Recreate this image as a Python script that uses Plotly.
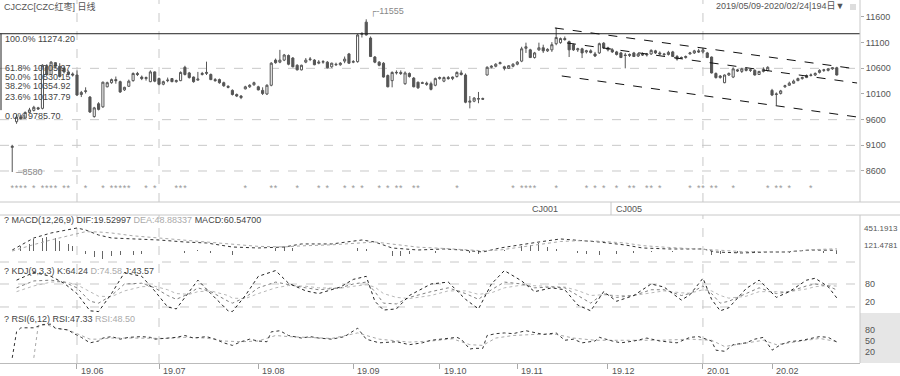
import plotly.graph_objects as go
import pandas as pd

# ---------------- data ----------------
holidays = ["2019-06-07", "2019-09-13", "2019-10-01", "2019-10-02", "2019-10-03", "2019-10-04",
            "2019-10-07", "2020-01-01", "2020-01-24", "2020-01-27", "2020-01-28", "2020-01-29",
            "2020-01-30", "2020-01-31"]
month_labels = ["19.06", "19.07", "19.08", "19.09", "19.10", "19.11", "19.12", "20.01", "20.02"]
price_ticks = [8600, 9100, 9600, 10100, 10600, 11100, 11600]
first_candle = 2

opens = [9060, 9560, 9650, 9630, 9740, 9780, 9830, 9820, 10640, 10480, 10710, 10640, 10600, 10530, 10490,
         10470, 10090, 10150, 10040, 9660, 9910, 9850, 10240, 10320, 10380, 10340, 10180, 10250, 10360, 10500,
         10430, 10400, 10340, 10530, 10400, 10290, 10360, 10400, 10340, 10360, 10620, 10510, 10430, 10370, 10480,
         10500, 10480, 10380, 10380, 10320, 10250, 10170, 10090, 10060, 10200, 10240, 10280, 10240, 10170, 10100,
         10270, 10760, 10720, 10760, 10850, 10800, 10660, 10570, 10720, 10770, 10760, 10700, 10720, 10720, 10630,
         10680, 10670, 10740, 10880, 10720, 10730, 11260, 11500, 11190, 10820, 10720, 10700, 10460, 10360, 10510,
         10520, 10300, 10500, 10410, 10330, 10320, 10310, 10300, 10270, 10400, 10350, 10420, 10400, 10440, 10510,
         10470, 9940, 9960, 10000, 10010, 10470, 10620, 10640, 10690, 10630, 10600, 10640, 10680, 10740, 10990,
         10960, 10810, 10960, 11000, 10940, 10960, 11080, 11100, 11180, 11120, 11060, 10960, 10980, 10920, 10940,
         10880, 10900, 11090, 11000, 10960, 10920, 10900, 10860, 10850, 10900, 10840, 10880, 10860, 10880, 10940,
         10900, 10880, 10870, 10920, 10830, 10800, 10810, 10880, 10900, 10940, 10920, 10900, 10820, 10500, 10420,
         10320, 10470, 10430, 10570, 10540, 10590, 10560, 10560, 10480, 10540, 10560, 10170, 10090, 10110, 10240,
         10270, 10310, 10360, 10400, 10420, 10460, 10470, 10520, 10560, 10560, 10590, 10610]
highs = [9110, 9700, 9690, 9760, 9830, 9870, 9850, 10680, 10680, 10740, 10720, 10700, 10640, 10560, 10520,
         10560, 10160, 10230, 10060, 9850, 9940, 10340, 10340, 10400, 10440, 10360, 10240, 10380, 10520, 10530,
         10460, 10440, 10560, 10540, 10420, 10360, 10420, 10410, 10380, 10540, 10650, 10530, 10440, 10530, 10530,
         10730, 10500, 10410, 10400, 10340, 10270, 10190, 10110, 10080, 10260, 10290, 10340, 10260, 10230, 10290,
         10720, 10790, 10960, 10880, 10870, 10820, 10680, 10670, 10800, 10820, 10780, 10760, 10760, 10740, 10710,
         10710, 10720, 10830, 10900, 10760, 11270, 11300, 11555, 11220, 10840, 10740, 10720, 10480, 10540, 10560,
         10560, 10540, 10520, 10430, 10340, 10340, 10340, 10340, 10420, 10440, 10440, 10450, 10440, 10540, 10560,
         10500, 10060, 10040, 10140, 10030, 10640, 10660, 10700, 10730, 10650, 10660, 10700, 10740, 11020, 11100,
         10980, 10920, 11100, 11060, 10990, 11110, 11390, 11200, 11220, 11140, 11080, 11000, 11000, 10960, 10970,
         10920, 11100, 11110, 11020, 10990, 10940, 10920, 10900, 10890, 10920, 10900, 10910, 10900, 10970, 10960,
         10930, 10900, 10940, 10940, 10860, 10830, 10850, 10920, 10960, 10980, 11000, 10920, 10830, 10520, 10470,
         10480, 10520, 10620, 10590, 10610, 10610, 10590, 10580, 10550, 10620, 10640, 10200, 10130, 10180, 10280,
         10340, 10380, 10420, 10440, 10480, 10500, 10520, 10580, 10590, 10600, 10620, 10630]
lows = [8580, 9520, 9600, 9620, 9730, 9760, 9790, 9800, 10450, 10470, 10600, 10420, 10500, 10460, 10440,
        10060, 10040, 10110, 9730, 9640, 9780, 9830, 10230, 10300, 10300, 10120, 10160, 10240, 10340, 10450,
        10370, 10360, 10330, 10330, 10270, 10270, 10330, 10330, 10320, 10350, 10460, 10400, 10320, 10360, 10460,
        10470, 10370, 10340, 10300, 10240, 10210, 10070, 10040, 10000, 10190, 10220, 10260, 10170, 10080, 10080,
        10250, 10690, 10700, 10740, 10660, 10620, 10560, 10560, 10700, 10740, 10660, 10680, 10690, 10600, 10610,
        10650, 10650, 10700, 10690, 10700, 10710, 11200, 11240, 10820, 10700, 10640, 10420, 10230, 10230, 10480,
        10470, 10280, 10420, 10230, 10200, 10300, 10260, 10170, 10250, 10380, 10330, 10380, 10370, 10420, 10460,
        9920, 9820, 9940, 9920, 9990, 10460, 10600, 10620, 10680, 10560, 10590, 10620, 10660, 10720, 10900,
        10800, 10790, 10940, 10900, 10920, 10920, 11050, 11080, 11140, 10820, 10940, 10920, 10800, 10890, 10890,
        10820, 10880, 10980, 10930, 10900, 10850, 10800, 10600, 10820, 10820, 10820, 10840, 10830, 10860, 10880,
        10860, 10840, 10850, 10820, 10750, 10790, 10790, 10870, 10880, 10900, 10890, 10800, 10500, 10400, 10400,
        10310, 10450, 10410, 10530, 10510, 10540, 10530, 10460, 10470, 10520, 10540, 10060, 9880, 10090, 10220,
        10260, 10300, 10350, 10380, 10410, 10440, 10450, 10500, 10530, 10540, 10570, 10460]
closes = [9080, 9650, 9620, 9740, 9790, 9840, 9810, 10660, 10480, 10720, 10640, 10440, 10530, 10490, 10470,
          10080, 10130, 10160, 9750, 9830, 9800, 10330, 10320, 10380, 10360, 10140, 10230, 10350, 10500, 10480,
          10400, 10420, 10530, 10350, 10290, 10340, 10370, 10340, 10360, 10520, 10480, 10420, 10340, 10390, 10500,
          10520, 10380, 10360, 10320, 10260, 10230, 10090, 10060, 10030, 10240, 10270, 10320, 10180, 10110, 10270,
          10700, 10710, 10760, 10860, 10680, 10630, 10570, 10660, 10760, 10780, 10670, 10720, 10730, 10610, 10700,
          10670, 10700, 10780, 10700, 10730, 11250, 11280, 11250, 10830, 10720, 10660, 10430, 10240, 10520, 10520,
          10500, 10510, 10440, 10240, 10220, 10310, 10290, 10190, 10400, 10420, 10420, 10400, 10430, 10520, 10480,
          9940, 9960, 10020, 10010, 10000, 10620, 10640, 10680, 10710, 10600, 10650, 10680, 10720, 10980, 11020,
          10810, 10900, 11000, 10940, 10970, 11060, 11200, 11180, 11160, 10960, 10960, 10980, 10900, 10940, 10910,
          10840, 11080, 11000, 10960, 10920, 10870, 10810, 10850, 10870, 10830, 10880, 10860, 10880, 10950, 10900,
          10880, 10870, 10910, 10830, 10780, 10810, 10830, 10900, 10940, 10920, 10960, 10810, 10510, 10420, 10450,
          10470, 10500, 10590, 10550, 10590, 10560, 10570, 10470, 10540, 10580, 10620, 10080, 10100, 10160, 10260,
          10310, 10350, 10400, 10420, 10460, 10470, 10500, 10560, 10570, 10590, 10610, 10470]

fib_high, fib_low = 11274.20, 9785.70
fib_labels = ["100.0% 11274.20", "61.8% 10705.97", "50.0% 10530.15", "38.2% 10354.92",
              "23.6% 10137.79", "0.0% 9785.70"]
high_mark, low_mark = 11555, 8580

# trend channel drawn on the price panel (index, price)
chan_top = [(127.7, 11386), (197.7, 10587)]
chan_mid = [(130.5, 11094), (197.7, 10314)]
chan_low = [(129.3, 10451), (197.7, 9652)]

star_idx = [2, 3, 4, 5, 7, 9, 10, 11, 12, 14, 15, 19, 23, 25, 26, 27, 28, 29, 33, 35, 40, 41, 42, 56, 62, 63,
            68, 73, 75, 79, 81, 83, 87, 89, 91, 92, 95, 96, 105, 118, 120, 121, 122, 123, 128, 135, 137, 139,
            142, 145, 146, 149, 150, 152, 159, 161, 162, 164, 165, 169, 177, 179, 180, 182, 187]

dif_idx = [2, 4, 7, 11, 15, 17, 19, 22, 25, 30, 36, 42, 47, 53, 59, 65, 69, 76, 83, 86, 90, 96, 102, 106, 111,
           115, 119, 124, 129, 133, 138, 144, 148, 154, 159, 162, 165, 171, 177, 181, 187, 193]
dif_val = [25, 122, 258, 355, 413, 452, 413, 316, 258, 239, 219, 180, 161, 83, 64, 83, 142, 142, 219, 180, 64,
           25, 45, 25, -14, 64, 122, 180, 239, 219, 180, 122, 64, 45, 45, 45, -14, -33, -14, -14, 25, 19.53]
dea_val = [5, 60, 130, 220, 300, 350, 380, 375, 355, 300, 260, 215, 185, 135, 95, 85, 105, 125, 170, 180, 140,
           80, 55, 40, 10, 25, 70, 130, 190, 205, 195, 160, 110, 75, 55, 50, 25, -5, -15, -15, 30, 48.88]
macd_idx = [4, 6, 7, 9, 10, 12, 13, 15, 16, 19, 21, 23, 25, 27, 30, 32, 36, 42, 45, 48, 53, 55, 63, 65, 67, 82,
            84, 90, 92, 94, 96, 100, 108, 110, 116, 120, 122, 124, 126, 128, 133, 135, 138, 142, 146, 150, 155,
            162, 164, 166, 170, 174, 178, 182, 186, 190, 193]
macd_val = [100, 150, 230, 250, 270, 250, 200, 150, 100, -60, -120, -150, -100, -80, -70, -60, -40, -30, 20, -25,
            -70, -60, 60, 80, 70, 60, 50, -90, -100, -60, -30, -30, -40, -50, 30, 100, 120, 160, 90, 50, -40,
            -60, -70, -50, -30, -20, -20, -40, -70, -60, -30, -20, 20, -30, 15, -25, -58]

kdj_idx = [3, 7, 11, 14, 17, 20, 22, 25, 28, 32, 35, 38, 40, 43, 45, 48, 52, 53, 56, 59, 63, 66, 70, 73, 78, 81,
           84, 86, 88, 91, 94, 99, 103, 107, 110, 113, 116, 120, 123, 127, 130, 133, 136, 139, 142, 146, 150,
           153, 157, 159, 162, 164, 166, 168, 172, 175, 179, 182, 186, 188, 191, 193]
k_val = [70, 88, 90, 85, 70, 35, 30, 50, 80, 82, 70, 50, 40, 55, 70, 60, 35, 30, 45, 70, 85, 78, 70, 65, 70, 80,
         85, 60, 30, 28, 45, 60, 70, 55, 40, 65, 85, 80, 70, 72, 70, 50, 30, 55, 45, 50, 65, 65, 50, 55, 75, 55,
         30, 35, 55, 70, 55, 60, 75, 80, 75, 64.24]
d_val = [60, 75, 85, 86, 78, 60, 48, 47, 62, 73, 74, 65, 55, 53, 60, 62, 50, 43, 42, 55, 70, 76, 74, 70, 69, 74,
         78, 72, 55, 45, 42, 50, 62, 62, 53, 57, 70, 77, 75, 73, 72, 63, 50, 52, 50, 50, 57, 62, 57, 56, 65, 62,
         50, 43, 48, 60, 60, 60, 67, 73, 76, 74.58]
j_val = [90, 110, 100, 82, 55, 10, 8, 55, 110, 100, 62, 20, 15, 60, 90, 55, 10, 8, 50, 100, 115, 82, 62, 55, 72,
         92, 100, 35, 12, 15, 50, 80, 85, 40, 15, 80, 115, 88, 60, 70, 65, 25, 10, 60, 35, 50, 80, 72, 38, 52,
         95, 40, 10, 18, 68, 90, 45, 60, 90, 95, 73, 43.57]

rsi6_idx = [2, 3, 4, 7, 9, 11, 12, 15, 16, 18, 20, 22, 23, 25, 27, 29, 32, 34, 35, 38, 40, 42, 44, 47, 49, 51,
            53, 55, 57, 59, 61, 62, 64, 66, 69, 71, 73, 76, 79, 82, 84, 87, 91, 94, 97, 99, 102, 105, 106, 108,
            109, 111, 112, 114, 116, 118, 121, 123, 125, 128, 130, 132, 134, 137, 138, 141, 143, 146, 149, 152,
            156, 159, 161, 164, 165, 167, 169, 172, 174, 176, 178, 180, 182, 185, 187, 189, 191, 193]
rsi6_val = [4, 75, 86, 86, 95, 96, 85, 80, 72, 60, 45, 50, 58, 62, 55, 60, 62, 60, 55, 58, 60, 65, 58, 62, 55,
            45, 38, 48, 55, 50, 48, 75, 78, 65, 58, 62, 58, 55, 62, 85, 55, 45, 48, 40, 45, 52, 55, 60, 55, 28,
            30, 30, 65, 70, 72, 70, 78, 72, 68, 72, 52, 55, 45, 50, 60, 50, 45, 50, 58, 50, 45, 60, 62, 50, 25,
            22, 40, 45, 55, 60, 25, 40, 48, 52, 58, 62, 60, 47.33]
rsi12_idx = [7, 8, 10, 12, 15, 17, 20, 22, 25, 29, 34, 38, 42, 47, 51, 55, 59, 63, 66, 71, 76, 82, 87, 94, 99,
             104, 108, 111, 114, 118, 123, 128, 132, 137, 140, 146, 152, 159, 164, 167, 172, 176, 179, 185, 189,
             193]
rsi12_val = [4, 90, 95, 85, 80, 70, 55, 55, 58, 58, 58, 57, 60, 58, 50, 48, 50, 65, 62, 60, 57, 72, 55, 47, 50,
             56, 40, 38, 58, 65, 68, 68, 58, 52, 52, 50, 52, 55, 52, 35, 45, 52, 40, 50, 57, 48.5]

# ---------------- layout helpers ----------------
W, H = 900, 376
PR, PB = 40, 13
PW, PH = W - PR, H - PB
STEP = 4.317          # pixels per trading day
X0 = 3.6              # pixel of day 0


def yp(ypx):
    return (PH - ypx) / PH


def xp(xpx):
    return xpx / PW


dates = [d for d in pd.bdate_range("2019-05-09", "2020-02-24") if d.strftime("%Y-%m-%d") not in holidays]
n_days = len(dates)
month_starts = [i for i in range(1, n_days) if dates[i].month != dates[i - 1].month]
cx = list(range(first_candle, first_candle + len(closes)))

GRAY = "#555555"
FONT = "Liberation Sans, Noto Sans CJK SC, sans-serif"

fig = go.Figure()
fig.add_trace(go.Candlestick(
    x=cx, open=opens, high=highs, low=lows, close=closes, xaxis="x", yaxis="y",
    increasing=dict(line=dict(color=GRAY, width=1), fillcolor="#ffffff"),
    decreasing=dict(line=dict(color=GRAY, width=1), fillcolor=GRAY),
    whiskerwidth=0, showlegend=False, hoverinfo="skip"))

fig.add_trace(go.Scatter(x=star_idx, y=[8249] * len(star_idx), mode="text", text=["*"] * len(star_idx),
                         textfont=dict(size=9, color="#999999", family=FONT), yaxis="y",
                         showlegend=False, hoverinfo="skip"))

fig.add_trace(go.Bar(x=macd_idx, y=macd_val, width=0.2, marker=dict(color="#666666", line=dict(width=0)),
                     yaxis="y2", showlegend=False, hoverinfo="skip"))
fig.add_trace(go.Scatter(x=dif_idx, y=dif_val, mode="lines", line=dict(color="#333333", width=1, dash="dot"),
                         yaxis="y2", showlegend=False, hoverinfo="skip"))
fig.add_trace(go.Scatter(x=dif_idx, y=dea_val, mode="lines", line=dict(color="#a8a8a8", width=1, dash="dot"),
                         yaxis="y2", showlegend=False, hoverinfo="skip"))

fig.add_trace(go.Scatter(x=kdj_idx, y=d_val, mode="lines", line=dict(color="#b8b8b8", width=1, dash="dot"),
                         yaxis="y3", showlegend=False, hoverinfo="skip"))
fig.add_trace(go.Scatter(x=kdj_idx, y=k_val, mode="lines", line=dict(color="#808080", width=1, dash="dot"),
                         yaxis="y3", showlegend=False, hoverinfo="skip"))
fig.add_trace(go.Scatter(x=kdj_idx, y=j_val, mode="lines", line=dict(color="#222222", width=1, dash="dot"),
                         yaxis="y3", showlegend=False, hoverinfo="skip"))

fig.add_trace(go.Scatter(x=rsi12_idx, y=rsi12_val, mode="lines", line=dict(color="#a8a8a8", width=1, dash="dot"),
                         yaxis="y4", showlegend=False, hoverinfo="skip"))
fig.add_trace(go.Scatter(x=rsi6_idx, y=rsi6_val, mode="lines", line=dict(color="#333333", width=1, dash="dot"),
                         yaxis="y4", showlegend=False, hoverinfo="skip"))

shapes = []
LG = "#c8c8c8"
# Fibonacci frame
shapes.append(dict(type="line", xref="paper", yref="y", x0=0, x1=1, y0=fib_high, y1=fib_high,
                   line=dict(color="#222222", width=1)))
shapes.append(dict(type="line", xref="paper", yref="y", x0=xp(1), x1=xp(1), y0=fib_low, y1=fib_high,
                   line=dict(color="#222222", width=1)))
# price grid
for lv in [10600, 9600, 9100, 8600]:
    shapes.append(dict(type="line", xref="paper", yref="y", x0=0, x1=1, y0=lv, y1=lv,
                       line=dict(color=LG, width=1, dash="dash"), layer="below"))
# vertical grid
for m in [month_starts[0], month_starts[1], month_starts[7]]:
    shapes.append(dict(type="line", xref="x", yref="paper", x0=m, x1=m, y0=yp(202), y1=1,
                       line=dict(color=LG, width=1, dash="dash"), layer="below"))
    shapes.append(dict(type="line", xref="x", yref="paper", x0=m, x1=m, y0=0, y1=yp(215),
                       line=dict(color=LG, width=1, dash="dash"), layer="below"))
# channel
for seg in [chan_top, chan_mid, chan_low]:
    shapes.append(dict(type="line", xref="x", yref="y", x0=seg[0][0], y0=seg[0][1], x1=seg[1][0], y1=seg[1][1],
                       line=dict(color="#111111", width=1, dash="dash")))
# panel separators
for ypx in [202, 215]:
    shapes.append(dict(type="line", xref="paper", yref="paper", x0=0, x1=W / PW, y0=yp(ypx), y1=yp(ypx),
                       line=dict(color=LG, width=1)))
shapes.append(dict(type="line", xref="paper", yref="paper", x0=1, x1=1, y0=yp(202), y1=1, line=dict(color=LG, width=1)))
shapes.append(dict(type="line", xref="paper", yref="paper", x0=1, x1=1, y0=0, y1=yp(215), line=dict(color=LG, width=1)))
shapes.append(dict(type="line", xref="paper", yref="paper", x0=xp(611), x1=xp(611), y0=yp(215), y1=yp(202),
                   line=dict(color=LG, width=1)))
# sub-panel dashed guides
shapes.append(dict(type="line", xref="paper", yref="paper", x0=0, x1=1, y0=yp(262), y1=yp(262),
                   line=dict(color=LG, width=1, dash="dash"), layer="below"))
for lv in [80, 20]:
    shapes.append(dict(type="line", xref="paper", yref="y3", x0=0, x1=1, y0=lv, y1=lv,
                       line=dict(color=LG, width=1, dash="dash"), layer="below"))
# grey tag area of RSI
shapes.append(dict(type="rect", xref="paper", yref="paper", x0=1, x1=W / PW, y0=0, y1=yp(313),
                   fillcolor="#e6e6e6", line=dict(width=0), layer="below"))
# small square top right
shapes.append(dict(type="rect", xref="paper", yref="paper", x0=xp(850), x1=xp(856), y0=yp(10), y1=yp(4),
                   fillcolor="#dddddd", line=dict(width=0)))

ann = []


def txt(x, y, s, color="#555555", anchor="left", size=9):
    ann.append(dict(xref="paper", yref="paper", x=xp(x), y=yp(y), text=s, showarrow=False,
                    xanchor=anchor, yanchor="middle", font=dict(size=size, color=color, family=FONT)))


txt(2, 7, "CJCZC[CZC红枣] 日线")
txt(846, 6, "2019/05/09-2020/02/24|194日▼", anchor="right")
fib_y = [39, 68, 77, 86, 97, 116]
for s, y in zip(fib_labels, fib_y):
    txt(3, y, s, color="#444444")
ann.append(dict(xref="x", yref="y", x=84.3, y=high_mark, text="┌-" + str(high_mark), showarrow=False,
                xanchor="left", yanchor="bottom", font=dict(size=9, color="#888888", family=FONT)))
ann.append(dict(xref="x", yref="y", x=2.1, y=low_mark, text="─" + str(low_mark), showarrow=False,
                xanchor="left", yanchor="middle", font=dict(size=9, color="#888888", family=FONT)))
txt(530, 208.5, "CJ001")
txt(614, 208.5, "CJ005")
txt(2, 220, "? MACD(12,26,9) DIF:19.52997 <span style='color:#aaaaaa'>DEA:48.88337</span> MACD:60.54700", color="#444444")
txt(2, 271, "? KDJ(9,3,3) K:64.24 <span style='color:#aaaaaa'>D:74.58</span> J:43.57", color="#444444")
txt(2, 319, "? RSI(6,12) RSI:47.33 <span style='color:#aaaaaa'>RSI:48.50</span>", color="#444444")
for s, y in [("451.1913", 228), ("121.4781", 245)]:
    txt(862, y, s, size=8)
for s, y in [("80", 284), ("20", 302), ("80", 330), ("50", 341), ("20", 352)]:
    txt(863, y, s)
# month labels sit to the right of their tick
for m, s in zip(month_starts, month_labels):
    ann.append(dict(xref="x", yref="paper", x=m, y=yp(370.5), text=s, showarrow=False, xanchor="left",
                    yanchor="middle", xshift=2, font=dict(size=9, color=GRAY, family=FONT)))

fig.update_layout(
    width=W, height=H, margin=dict(l=0, r=PR, t=0, b=PB, autoexpand=False),
    paper_bgcolor="#ffffff", plot_bgcolor="#ffffff", showlegend=False, bargap=0,
    font=dict(family=FONT, size=9, color=GRAY),
    xaxis=dict(domain=[0, 1], range=[-X0 / STEP, (PW - X0) / STEP], anchor="y4",
               tickvals=month_starts, showticklabels=False, ticks="outside", ticklen=5, tickcolor="#aaaaaa",
               showline=True, linecolor="#bbbbbb", showgrid=False, zeroline=False,
               rangeslider=dict(visible=False), fixedrange=True),
    yaxis=dict(domain=[yp(202), 1], range=[7996, 11931], side="right", anchor="x",
               tickvals=price_ticks, ticktext=[str(v) for v in price_ticks], ticks="outside", ticklen=3,
               tickcolor="#aaaaaa", showgrid=False, zeroline=False, showline=False,
               tickfont=dict(size=9, color=GRAY), automargin=False),
    yaxis2=dict(domain=[yp(262), yp(215)], range=[-208, 704], anchor="x", showticklabels=False,
                showgrid=False, zeroline=False),
    yaxis3=dict(domain=[yp(313), yp(262)], range=[4.3, 137.4], anchor="x", showticklabels=False,
                showgrid=False, zeroline=False),
    yaxis4=dict(domain=[0, yp(313)], range=[-10, 126.4], anchor="x", showticklabels=False,
                showgrid=False, zeroline=False),
    shapes=shapes, annotations=ann,
)

fig.write_html("out.html", config={"displayModeBar": False, "staticPlot": True},
               post_script="document.body.style.margin='0px';document.body.style.overflow='hidden';")
